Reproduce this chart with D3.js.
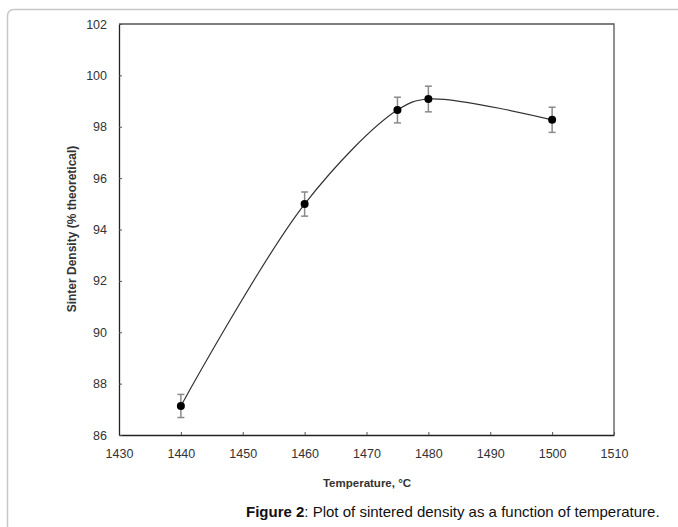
<!DOCTYPE html>
<html><head><meta charset="utf-8">
<script src="https://cdn.jsdelivr.net/npm/d3@7"></script>
<style>html,body{margin:0;padding:0;background:#fff;} svg{display:block;}</style>
</head><body>
<script>
const temperatures = [1440, 1460, 1475, 1480, 1500];
const densities = [87.13, 94.99, 98.65, 99.08, 98.27];
const errors = [0.45, 0.47, 0.5, 0.5, 0.49];
const xTicks = [1430, 1440, 1450, 1460, 1470, 1480, 1490, 1500, 1510];
const yTicks = [86, 88, 90, 92, 94, 96, 98, 100, 102];
const xTitle = "Temperature, °C";
const yTitle = "Sinter Density (% theoretical)";

(function () {
const W = 678, H = 527;
const svg = d3.select("body").append("svg").attr("width", W).attr("height", H);

// outer figure border (rounded)
svg.append("rect").attr("x", 7.5).attr("y", 9.5).attr("width", 700).attr("height", 560)
  .attr("rx", 6).attr("fill", "none").attr("stroke", "#c8c8c8").attr("stroke-width", 1.5);

const pL = 119, pR = 614, pT = 24, pB = 435;
const x = d3.scaleLinear().domain([1430, 1510]).range([pL, pR]);
const y = d3.scaleLinear().domain([86, 102]).range([pB, pT]);

const font = "Arial, 'Liberation Sans', sans-serif";

// frame
svg.append("path").attr("d", `M${pL},${pT}H${pR}V${pB}`).attr("fill", "none")
  .attr("stroke", "#555").attr("stroke-width", 1.3);

// axes
const xAxis = svg.append("g").attr("transform", `translate(0,${pB})`)
  .call(d3.axisBottom(x).tickValues(xTicks).tickSizeInner(-3).tickSizeOuter(0).tickPadding(14).tickFormat(d3.format("d")));
const yAxis = svg.append("g").attr("transform", `translate(${pL},0)`)
  .call(d3.axisLeft(y).tickValues(yTicks).tickSizeInner(-3).tickSizeOuter(0).tickPadding(12).tickFormat(d3.format("d")));
[xAxis, yAxis].forEach(a => {
  a.select(".domain").attr("stroke", "#222").attr("stroke-width", 1.3);
  a.selectAll(".tick line").attr("stroke", "#555");
  a.selectAll(".tick text").attr("font-family", font).attr("font-size", 12.5).attr("fill", "#333");
});

// axis titles
svg.append("text").attr("x", 367).attr("y", 487).attr("text-anchor", "middle")
  .attr("font-family", font).attr("font-size", 11.5).attr("font-weight", "bold").attr("fill", "#333").text(xTitle);
svg.append("text").attr("transform", `translate(76,229) rotate(-90)`).attr("text-anchor", "middle")
  .attr("font-family", font).attr("font-size", 12).attr("font-weight", "bold").attr("fill", "#333").text(yTitle);

const data = temperatures.map((t, i) => ({t, v: densities[i], e: errors[i]}));

// smooth line
const line = d3.line().x(d => x(d.t)).y(d => y(d.v)).curve(d3.curveCatmullRom.alpha(0.5));
svg.append("path").datum(data).attr("d", line).attr("fill", "none")
  .attr("stroke", "#333").attr("stroke-width", 1.2);

// error bars
const eb = svg.append("g").attr("stroke", "#8a8a8a").attr("stroke-width", 1.5);
data.forEach(d => {
  eb.append("line").attr("x1", x(d.t)).attr("x2", x(d.t)).attr("y1", y(d.v - d.e)).attr("y2", y(d.v + d.e));
  [d.v - d.e, d.v + d.e].forEach(v => eb.append("line")
    .attr("x1", x(d.t) - 3.5).attr("x2", x(d.t) + 3.5).attr("y1", y(v)).attr("y2", y(v)));
});

// markers
svg.append("g").selectAll("circle").data(data).join("circle")
  .attr("cx", d => x(d.t)).attr("cy", d => y(d.v)).attr("r", 4).attr("fill", "#000");

// caption
const cap = svg.append("text").attr("x", 246).attr("y", 517).attr("font-family", font)
  .attr("font-size", 15).attr("fill", "#111");
cap.append("tspan").attr("font-weight", "bold").text("Figure 2");
cap.append("tspan").text(": Plot of sintered density as a function of temperature.");
})();
</script>
</body></html>
